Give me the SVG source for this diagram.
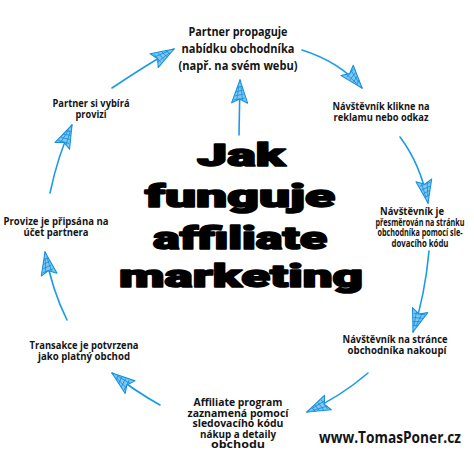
<svg xmlns="http://www.w3.org/2000/svg" width="474" height="455" viewBox="0 0 474 455">
<defs>
<style>
.lbl{font-family:"Liberation Sans Narrow","Open Sans","Liberation Sans",sans-serif;font-weight:700;fill:#141414;text-anchor:middle;}
.s{font-size:11px;}
.xs{font-size:10px;}
.top{font-size:12.5px;}
.url{font-family:"Open Sans","Liberation Sans",sans-serif;font-weight:700;font-size:16px;fill:#141414;text-anchor:middle;}
.title{font-family:"Roboto","Liberation Sans",sans-serif;font-weight:900;font-size:31px;fill:#000;stroke:#000;stroke-width:1.6;stroke-linejoin:round;text-anchor:middle;}
.conn path{fill:none;stroke:#1a9be6;stroke-width:1.6;stroke-linecap:round;}
</style>
<marker id="ah" markerUnits="userSpaceOnUse" markerWidth="30" markerHeight="24" refX="0" refY="0" viewBox="-26 -12 30 24" orient="auto" overflow="visible">
<path d="M0,0 L-23,-8 L-19,0 L-23,8 Z" fill="#7cc8f2" stroke="#1a8fdc" stroke-width="1.1" stroke-linejoin="round"/>
<path d="M-20,-6 L-18,5 M-16,-5 L-14,4 M-12,-4 L-10,3 M-8,-3 L-6,2 M-21,-3 L-6,-1 M-21,3 L-6,1" fill="none" stroke="#1a8fdc" stroke-width="0.8"/>
</marker>
</defs>
<rect width="474" height="455" fill="#fff"/>

<g id="connectors" class="conn">
<path d="M112,88 Q145,66 174,49" marker-end="url(#ah)"/>
<path d="M302,50 Q340,62 362,88" marker-end="url(#ah)"/>
<path d="M239,135 L240,80" marker-end="url(#ah)"/>
<path d="M400,137 Q421,165 428,203" marker-end="url(#ah)"/>
<path d="M429,251 Q425,295 413,332" marker-end="url(#ah)"/>
<path d="M368,373 Q340,397 307,412" marker-end="url(#ah)"/>
<path d="M160,405 Q135,391 112,373" marker-end="url(#ah)"/>
<path d="M67,320 Q52,290 45,252" marker-end="url(#ah)"/>
<path d="M50,193 Q58,155 72,125" marker-end="url(#ah)"/>
</g>

<g id="title">
<text class="title" x="241" y="166" textLength="88" lengthAdjust="spacingAndGlyphs">Jak</text>
<text class="title" x="240" y="207" textLength="190" lengthAdjust="spacingAndGlyphs">funguje</text>
<text class="title" x="240" y="249" textLength="174" lengthAdjust="spacingAndGlyphs">affiliate</text>
<text class="title" x="241" y="287" textLength="244" lengthAdjust="spacingAndGlyphs">marketing</text>
</g>

<g id="n1">
<text class="lbl top" x="238" y="36" textLength="99" lengthAdjust="spacingAndGlyphs">Partner propaguje</text>
<text class="lbl top" x="238" y="53" textLength="113" lengthAdjust="spacingAndGlyphs">nabídku obchodníka</text>
<text class="lbl top" x="238" y="70" textLength="119" lengthAdjust="spacingAndGlyphs">(např. na svém webu)</text>
</g>

<g id="n2">
<text class="lbl s" x="381" y="110" textLength="97" lengthAdjust="spacingAndGlyphs">Návštěvník klikne na</text>
<text class="lbl s" x="381" y="121" textLength="95" lengthAdjust="spacingAndGlyphs">reklamu nebo odkaz</text>
</g>

<g id="n3">
<text class="lbl xs" x="412" y="215" textLength="64" lengthAdjust="spacingAndGlyphs">Návštěvník je</text>
<text class="lbl xs" x="420" y="225.5" textLength="89" lengthAdjust="spacingAndGlyphs">přesměrován na stránku</text>
<text class="lbl xs" x="420" y="236" textLength="85" lengthAdjust="spacingAndGlyphs">obchodníka pomocí sle-</text>
<text class="lbl xs" x="420" y="246.5" textLength="57" lengthAdjust="spacingAndGlyphs">dovacího kódu</text>
</g>

<g id="n4">
<text class="lbl s" x="395" y="343" textLength="105" lengthAdjust="spacingAndGlyphs">Návštěvník na stránce</text>
<text class="lbl s" x="397" y="354" textLength="99" lengthAdjust="spacingAndGlyphs">obchodníka nakoupí</text>
</g>

<g id="n5">
<text class="lbl xs" x="238" y="406" textLength="89" lengthAdjust="spacingAndGlyphs">Affiliate program</text>
<text class="lbl xs" x="238" y="416.5" textLength="101" lengthAdjust="spacingAndGlyphs">zaznamená pomocí</text>
<text class="lbl xs" x="238" y="427" textLength="91" lengthAdjust="spacingAndGlyphs">sledovacího kódu</text>
<text class="lbl xs" x="238" y="437.5" textLength="76" lengthAdjust="spacingAndGlyphs">nákup a detaily</text>
<text class="lbl xs" x="238" y="448" textLength="54" lengthAdjust="spacingAndGlyphs">obchodu</text>
</g>

<g id="n6">
<text class="lbl s" x="84" y="349" textLength="109" lengthAdjust="spacingAndGlyphs">Transakce je potvrzena</text>
<text class="lbl s" x="84" y="360" textLength="92" lengthAdjust="spacingAndGlyphs">jako platný obchod</text>
</g>

<g id="n7">
<text class="lbl s" x="56" y="225" textLength="105" lengthAdjust="spacingAndGlyphs">Provize je připsána na</text>
<text class="lbl s" x="56" y="236" textLength="65" lengthAdjust="spacingAndGlyphs">účet partnera</text>
</g>

<g id="n8">
<text class="lbl s" x="91" y="107" textLength="77" lengthAdjust="spacingAndGlyphs">Partner si vybírá</text>
<text class="lbl s" x="91" y="118" textLength="31" lengthAdjust="spacingAndGlyphs">provizi</text>
</g>

<g id="url">
<text class="url" x="390" y="443" textLength="142" lengthAdjust="spacingAndGlyphs">www.TomasPoner.cz</text>
</g>
</svg>
